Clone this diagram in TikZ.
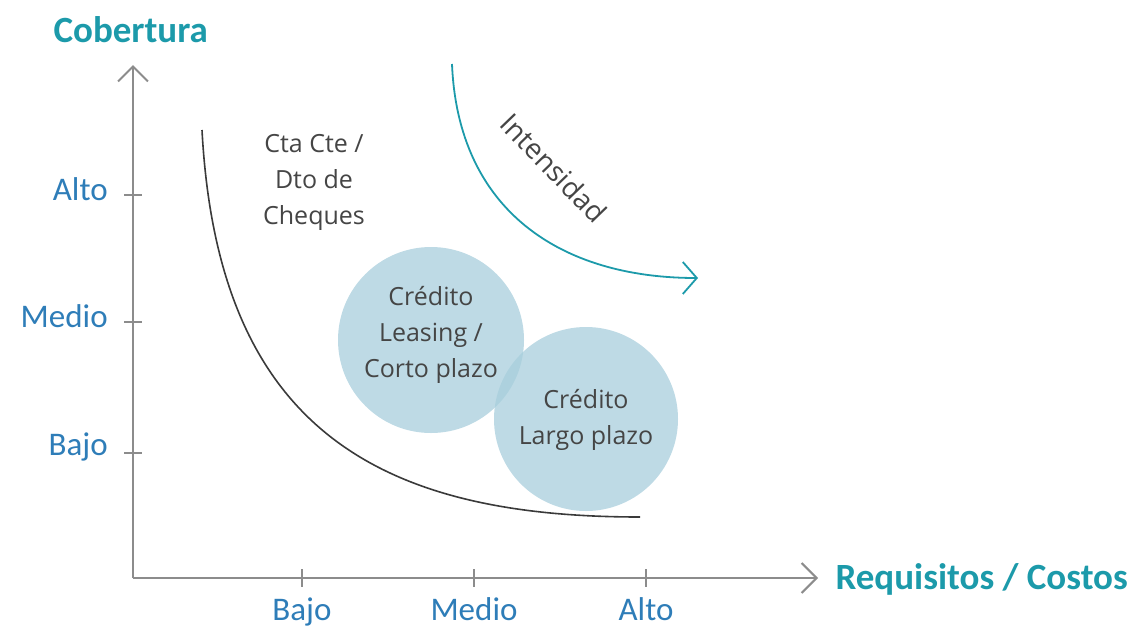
\documentclass[tikz,border=0pt]{standalone}
\usepackage{fontspec}
\usepackage{xcolor}
\setmainfont{Open Sans}
\newfontfamily\axisfont{Carlito}
\usetikzlibrary{arrows.meta}

\definecolor{axisgray}{HTML}{8C8C8C}
\definecolor{curvegray}{HTML}{3A3A3A}
\definecolor{textgray}{HTML}{454545}
\definecolor{tickblue}{HTML}{2E7DB8}
\definecolor{titleteal}{HTML}{1C9AAA}
\definecolor{bubble}{HTML}{A8CEDC}

\tikzset{
    axisline/.style={axisgray, line width=2pt},
    ticklabel/.style={tickblue, font=\axisfont\fontsize{33}{36}\selectfont},
    axistitle/.style={titleteal, font=\axisfont\bfseries\fontsize{37}{40}\selectfont},
    bubbletext/.style={textgray, align=center, font=\fontsize{25}{36}\selectfont}
}

\begin{document}
\begin{tikzpicture}[x=1pt, y=-1pt]
\useasboundingbox (0,0) rectangle (1140,632);

%axes
\coordinate (origin) at (133,578);
\coordinate (ytip) at (133,65);
\coordinate (xtip) at (818,578);
\draw[
        axisline,
        -{Straight Barb[length=15pt, width=30pt, line width=2pt]}
        ]
        (origin) -- (ytip);
\draw[
        axisline,
        -{Straight Barb[length=15pt, width=30pt, line width=2pt]}
        ]
        (origin) -- (xtip);

%axes label
\node [axistitle, anchor=west] (ytitle) at (50,30) {Cobertura};
\node [axistitle, anchor=west] (xtitle) at (832,579) {Requisitos / Costos};

%x-ticks
\foreach \x/\xtext in {302/Bajo,
                        474/Medio,
                            646/Alto}
\draw[axisline] (\x,569) -- (\x,587) node[
                                        ticklabel,
                                        anchor=base
                                        ]
                                        at (\x,620) {\xtext};
%y-ticks
\foreach \y/\ytext in {195/Alto,
                        322/Medio,
                            453/Bajo}
\draw[axisline] (124,\y) -- (142,\y) node[
                                        ticklabel,
                                        anchor=east
                                        ]
                                        at (112,\y-6) {\ytext};

%bubbles
\fill[bubble, opacity=0.75] (431,340) circle [radius=93];
\fill[bubble, opacity=0.75] (586,419) circle [radius=92];

%curve
\draw[
        curvegray,
        line width=1.6pt
        ]
        (202,130) .. controls (218,430) and (380,517) .. (640,517);

%intensity arrow
\draw[
        titleteal,
        line width=1.8pt,
        -{Straight Barb[length=14pt, width=32pt, line width=1.8pt]}
        ]
        (452,64) .. controls (458,210) and (560,278) .. (698,278);
\node [
        textgray,
        rotate=-46,
        font=\fontsize{28}{30}\selectfont
        ] (intens) at (554,168) {Intensidad};

%labels
\node [bubbletext] (ctacte) at (314,182) {Cta Cte /\\Dto de\\Cheques};
\node [bubbletext] (corto) at (431,335) {Crédito\\Leasing /\\Corto plazo};
\node [bubbletext] (largo) at (586,420) {Crédito\\Largo plazo};
\end{tikzpicture}
\end{document}
